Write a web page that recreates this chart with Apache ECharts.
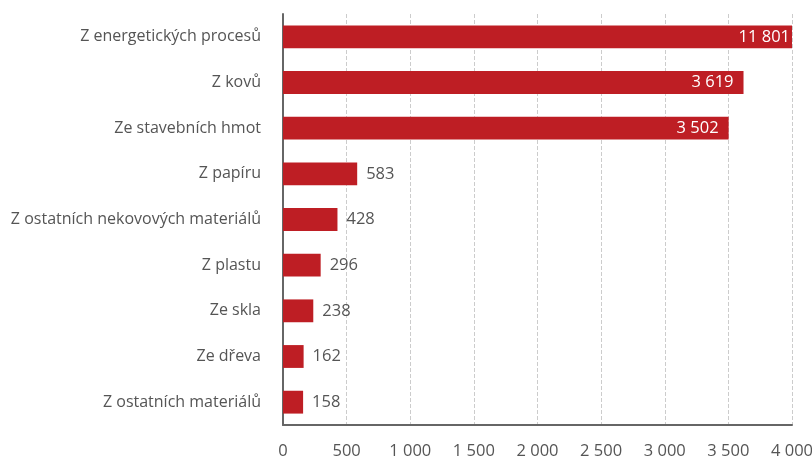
<!DOCTYPE html>
<html>
<head>
<meta charset="utf-8">
<script src="https://cdn.jsdelivr.net/npm/echarts@6/dist/echarts.min.js"></script>
<style>
  html, body { margin: 0; padding: 0; background: #fff; }
  #chart { width: 812px; height: 461px; }
</style>
</head>
<body>
<div id="chart"></div>
<script>
var categories = [
  "Z energetických procesů",
  "Z kovů",
  "Ze stavebních hmot",
  "Z papíru",
  "Z ostatních nekovových materiálů",
  "Z plastu",
  "Ze skla",
  "Ze dřeva",
  "Z ostatních materiálů"
];
var values = [11801, 3619, 3502, 583, 428, 296, 238, 162, 158];
var axisMax = 4000;
var fontName = "Open Sans";

// mezera jako oddělovač tisíců
function fmt(v) {
  return String(v).replace(/\B(?=(\d{3})+(?!\d))/g, " ");
}

var seriesData = values.map(function (v) {
  var big = v >= 1000;
  return {
    value: Math.min(v, axisMax),
    raw: v,
    label: {
      position: big ? "insideRight" : "right",
      color: big ? "#ffffff" : "#555555",
      distance: v > axisMax ? 2 : (big ? 10 : 9)
    }
  };
});

var chart = echarts.init(document.getElementById("chart"));

var option = {
  animation: false,
  grid: { left: 283, right: 20, top: 14, bottom: 36, outerBoundsMode: "none" },
  xAxis: {
    type: "value",
    min: 0,
    max: axisMax,
    interval: 500,
    axisLine: { show: true, lineStyle: { color: "#666", width: 2 } },
    axisTick: { show: false },
    axisLabel: {
      margin: 18,
      color: "#555",
      fontSize: 16.5,
      fontFamily: fontName,
      formatter: function (v) { return fmt(v); }
    },
    splitLine: { show: true, lineStyle: { color: "#ccc", type: "dashed" } }
  },
  yAxis: {
    type: "category",
    inverse: true,
    data: categories,
    axisLine: { show: true, lineStyle: { color: "#666", width: 2 } },
    axisTick: { show: false },
    axisLabel: {
      margin: 22,
      color: "#555",
      fontSize: 16,
      fontFamily: fontName
    }
  },
  series: [{
    type: "bar",
    data: seriesData,
    barWidth: "50%",
    itemStyle: { color: "#be1e24" },
    label: {
      show: true,
      fontSize: 16.5,
      fontFamily: fontName,
      formatter: function (p) { return fmt(p.data.raw); }
    }
  }]
};

chart.setOption(option);
</script>
</body>
</html>
